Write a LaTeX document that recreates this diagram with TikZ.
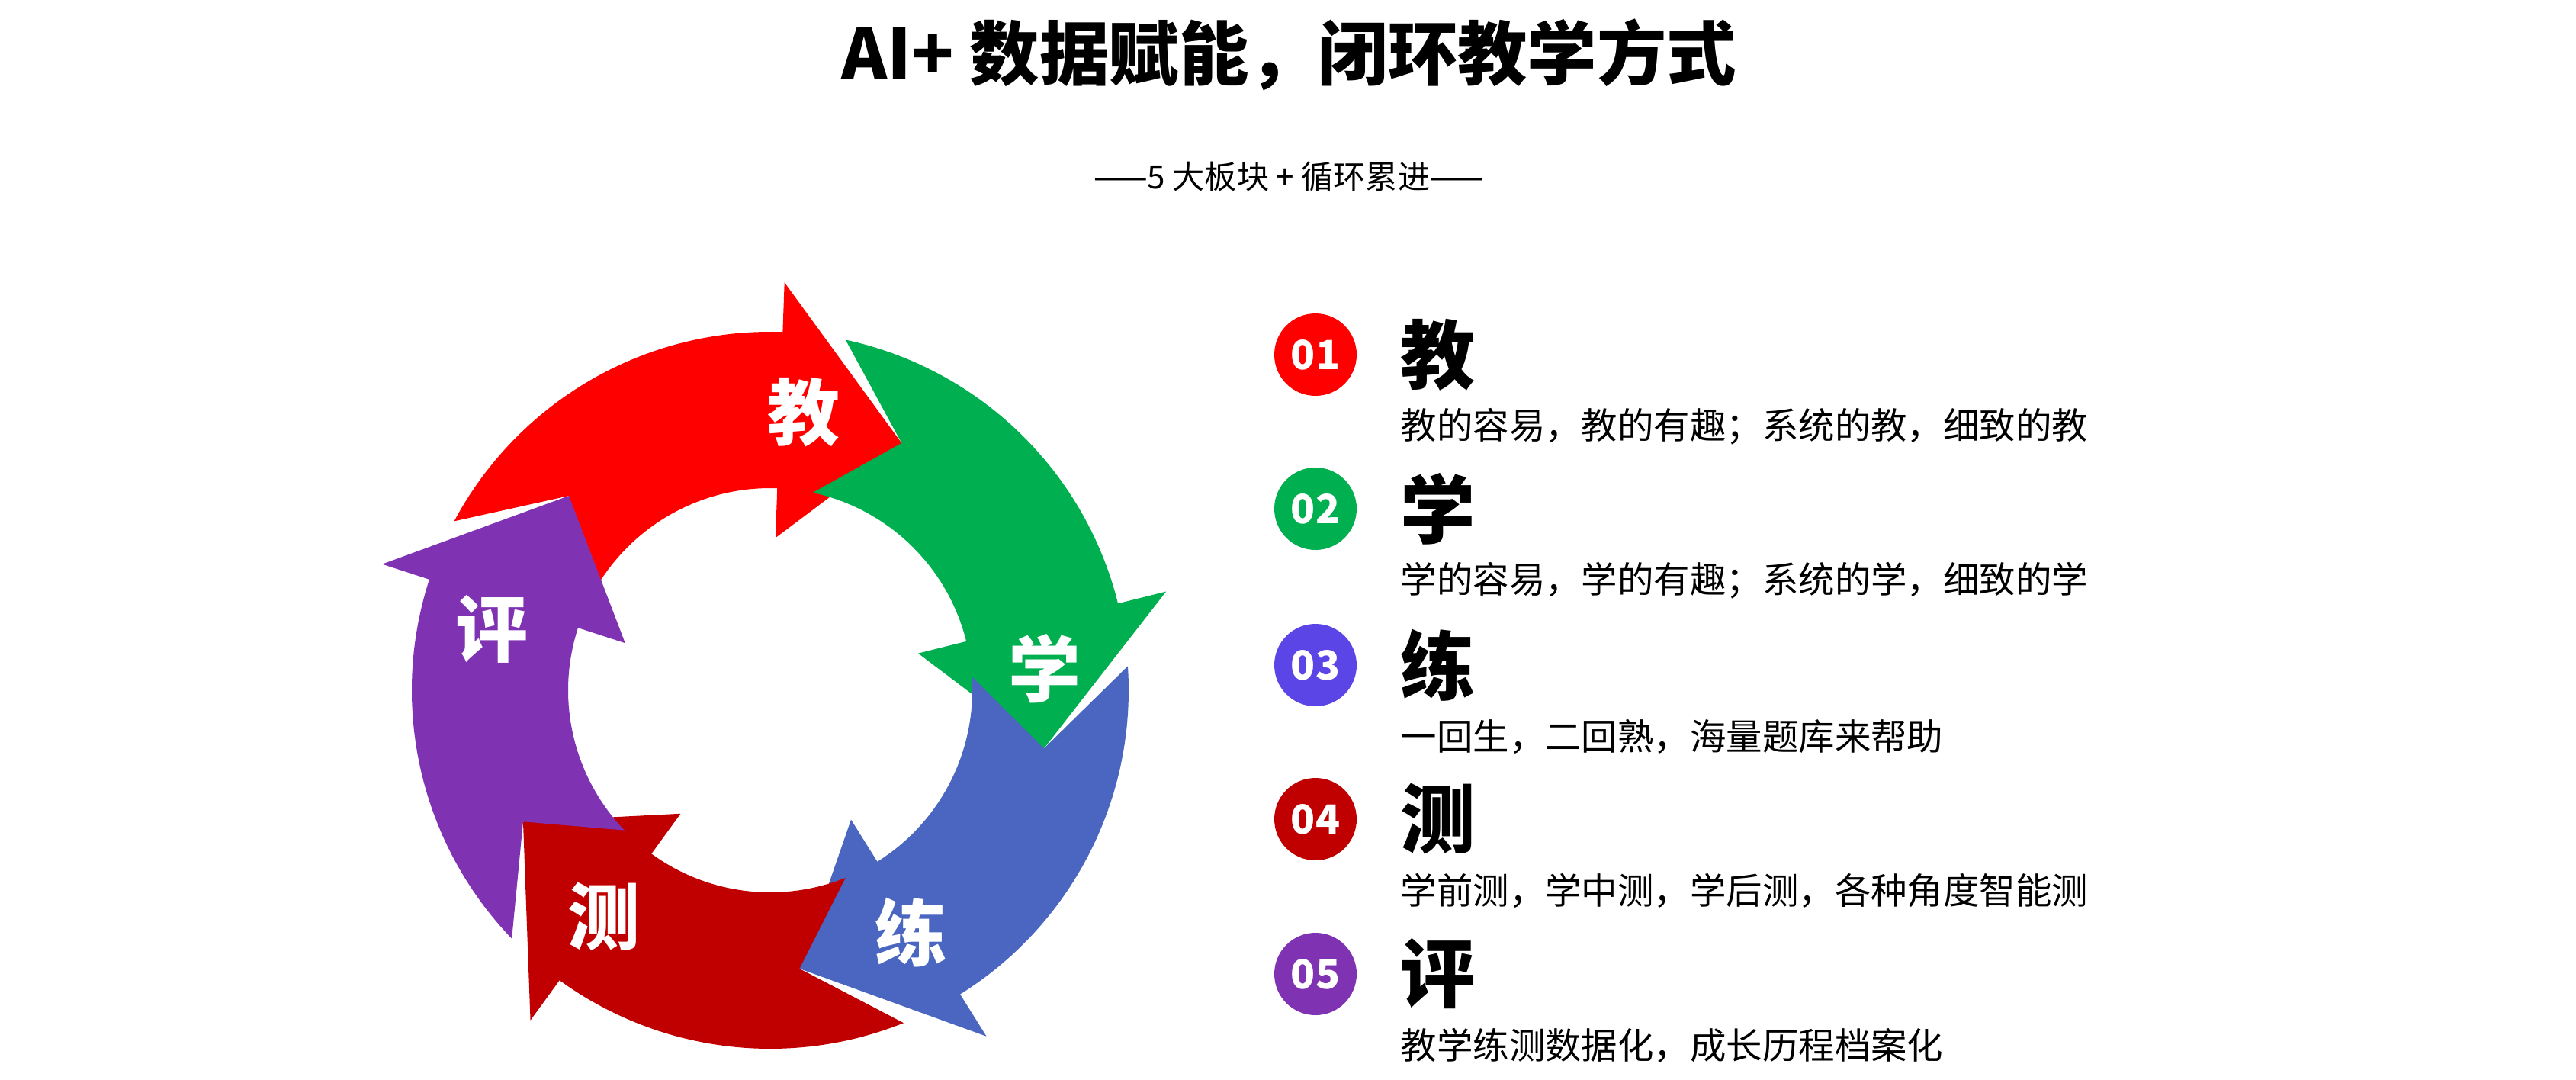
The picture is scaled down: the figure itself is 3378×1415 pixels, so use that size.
\documentclass[tikz,border=0pt]{standalone}
\usepackage{fontspec}
\setmainfont{Noto Sans CJK SC}
\newfontfamily\cjk{Noto Sans CJK SC}
\definecolor{cred}{HTML}{FF0000}
\definecolor{cgreen}{HTML}{00AF50}
\definecolor{cblue}{HTML}{4A66C0}
\definecolor{cdred}{HTML}{C00000}
\definecolor{cpurple}{HTML}{7F33B3}
\definecolor{cviolet}{HTML}{5B45E6}
\newcommand{\ringarrow}[3]{%
  \pgfmathsetmacro{\ta}{#2+0.61*26}%
  \pgfmathsetmacro{\tb}{#3+26}%
  \fill[#1] (\ta:470) arc[start angle=\ta, end angle=\tb, radius=470]
    -- (\tb:535) -- (#3:367) -- (\tb:200) -- (\tb:265)
    arc[start angle=\tb, end angle=\ta, radius=265] -- (#2:367) -- cycle;}
\tikzset{
  ringlbl/.style={text=white, font=\fontsize{27}{30}\selectfont\bfseries},
  numc/.style={circle, minimum size=108*0.1mm, inner sep=0pt, text=white, font=\fontsize{15}{18}\selectfont\bfseries},
  headc/.style={anchor=west, inner sep=0pt, font=\fontsize{28}{32}\selectfont\bfseries},
  descc/.style={anchor=west, inner sep=0pt, font=\fontsize{13.5}{16}\selectfont}
}
\begin{document}
\begin{tikzpicture}[x=0.1mm,y=0.1mm]
\useasboundingbox (0,0) rectangle (3378,1415);
\fill[white] (0,0) rectangle (3378,1415);
\node (title) at (1690,1343) {\fontsize{26}{30}\selectfont\bfseries AI+ 数据赋能，闭环教学方式};
\node (sub) at (1690,1183) {\fontsize{12}{14}\selectfont ——5 大板块 + 循环累进——};
\begin{scope}[shift={(1010,510)}]
  \ringarrow{cred}{136}{62}
  \ringarrow{cgreen}{62}{-12}
  \ringarrow{cblue}{-12}{-84}
  \ringarrow{cdred}{-84}{-152}
  \ringarrow{cpurple}{-152}{-224}
\end{scope}
\node[ringlbl] (l1) at (1054,874) {教};
\node[ringlbl] (l2) at (1370,538) {学};
\node[ringlbl] (l3) at (1195,192) {练};
\node[ringlbl] (l4) at (792,213) {测};
\node[ringlbl] (l5) at (645,590) {评};
\foreach \i/\y/\c/\h/\d in {
  1/950/cred/教/教的容易，教的有趣；系统的教，细致的教,
  2/748/cgreen/学/学的容易，学的有趣；系统的学，细致的学,
  3/543/cviolet/练/一回生，二回熟，海量题库来帮助,
  4/341/cdred/测/学前测，学中测，学后测，各种角度智能测,
  5/138/cpurple/评/教学练测数据化，成长历程档案化}{
  \node[numc, fill=\c] (n\i) at (1725,\y) {0\i};
  \node[headc] (h\i) at (1836,\y) {\h};
  \node[descc] (d\i) at (1836,\y-94) {\d};
}
\end{tikzpicture}
\end{document}
